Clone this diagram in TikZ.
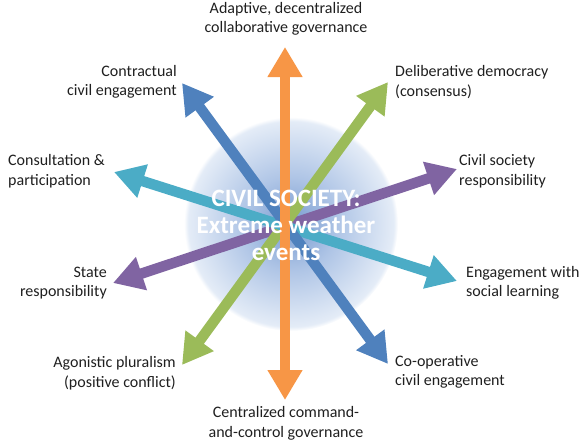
\documentclass[tikz,border=0pt]{standalone}
\usepackage{fontspec}
\setmainfont{Carlito}
\usetikzlibrary{arrows.meta,positioning}

\definecolor{govorange}{HTML}{F79646}
\definecolor{engblue}{HTML}{4F81BD}
\definecolor{demgreen}{HTML}{9BBB59}
\definecolor{partteal}{HTML}{4BACC6}
\definecolor{resppurple}{HTML}{8064A2}
\definecolor{glowin}{RGB}{120,155,208}
\definecolor{glowmid}{RGB}{175,197,230}
\definecolor{glowout}{RGB}{228,236,247}
\pgfdeclareradialshading{hubglow}{\pgfpoint{0bp}{0bp}}{color(0bp)=(glowin); color(11bp)=(glowmid); color(24bp)=(glowout); color(25bp)=(white); color(50bp)=(white)}

\begin{document}
\begin{tikzpicture}[
  x=1pt, y=-1pt,
  lbl/.style={font=\fontsize{16}{19.5}\selectfont, text=black!88, inner sep=0pt},
  hub/.style={font=\fontsize{25}{27}\selectfont\bfseries, text=white, align=center, inner sep=0pt},
  dblarr/.style={line width=10.5pt, {Triangle[width=33pt,length=30pt]}-{Triangle[width=33pt,length=30pt]}}
]
\useasboundingbox (0,0) rectangle (587,445);

% glow behind the hub
\shade[shading=hubglow] (291,224) circle[radius=107];

% arrow tips
\coordinate (tipN) at (285,47);
\coordinate (tipS) at (285,400);
\coordinate (tipNW) at (182,83);
\coordinate (tipSE) at (388,364);
\coordinate (tipNE) at (388,82);
\coordinate (tipSW) at (182,365);
\coordinate (tipWNW) at (114,172);
\coordinate (tipESE) at (457,281);
\coordinate (tipENE) at (457,169);
\coordinate (tipWSW) at (113,283);

\draw[dblarr, resppurple] (tipWSW) -- (tipENE);
\draw[dblarr, demgreen] (tipSW) -- (tipNE);
\draw[dblarr, partteal] (tipWNW) -- (tipESE);
\draw[dblarr, engblue] (tipNW) -- (tipSE);
\draw[dblarr, govorange] (tipS) -- (tipN);

\node[hub] (civil) at (286,225) {CIVIL SOCIETY:\\Extreme weather\\events};

% outer labels
\node[lbl, anchor=north, align=center] (adaptive) at (286,2) {Adaptive, decentralized\\collaborative governance};
\node[lbl, anchor=east, align=right] (contract) at (177,82) {Contractual\\civil engagement};
\node[lbl, anchor=west, align=left] (deliberative) at (395,82) {Deliberative democracy\\(consensus)};
\node[lbl, anchor=west, align=left] (consult) at (8,171) {Consultation \&\\participation};
\node[lbl, anchor=west, align=left] (civilresp) at (459,171) {Civil society\\responsibility};
\node[lbl, anchor=east, align=right] (state) at (107,283) {State\\responsibility};
\node[lbl, anchor=west, align=left] (learning) at (466,283) {Engagement with\\social learning};
\node[lbl, anchor=east, align=right] (agonistic) at (176,373) {Agonistic pluralism\\(positive conflict)};
\node[lbl, anchor=west, align=left] (coop) at (395,372) {Co-operative\\civil engagement};
\node[lbl, anchor=south, align=center] (central) at (286,440) {Centralized command-\\and-control governance};
\end{tikzpicture}
\end{document}
